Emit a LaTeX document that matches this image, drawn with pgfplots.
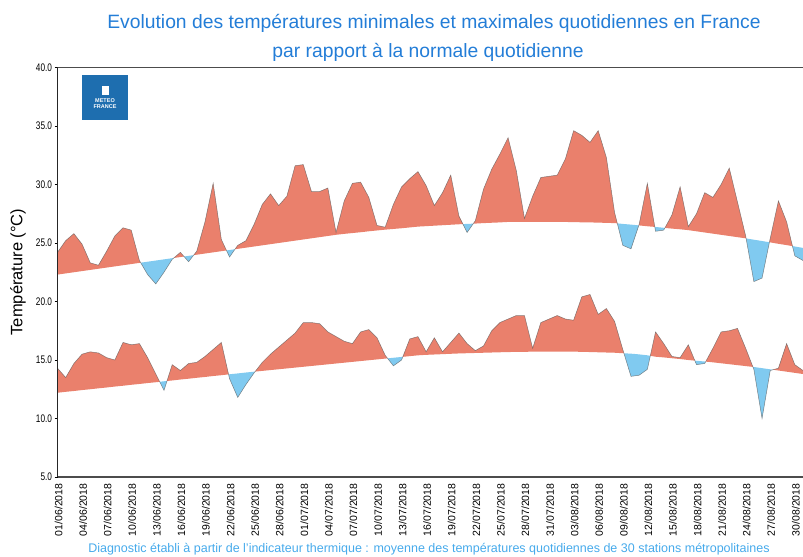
\documentclass[border=0pt]{standalone}
\usepackage{fontspec}
\setmainfont{Liberation Sans}
\usepackage{pgfplots}
\pgfplotsset{compat=1.18}
\usepackage{pgfplotstable}
\usepgfplotslibrary{fillbetween}
\definecolor{mred}{RGB}{234,128,108}
\definecolor{mblue}{RGB}{128,202,240}
\definecolor{tblue}{RGB}{35,125,215}
\definecolor{fblue}{RGB}{70,170,235}
\definecolor{logob}{RGB}{30,110,175}

\pgfplotstableread{
d amax nmax amin nmin
0 24.2 22.30 14.3 12.20
1 25.2 22.40 13.5 12.28
2 25.8 22.50 14.7 12.35
3 24.9 22.60 15.5 12.43
4 23.3 22.70 15.7 12.50
5 23.1 22.80 15.6 12.58
6 24.3 22.90 15.2 12.65
7 25.6 23.00 15.0 12.73
8 26.3 23.10 16.5 12.80
9 26.1 23.20 16.3 12.88
10 23.5 23.30 16.4 12.95
11 22.3 23.40 15.2 13.03
12 21.5 23.50 13.8 13.10
13 22.5 23.60 12.4 13.18
14 23.6 23.70 14.6 13.25
15 24.2 23.80 14.1 13.33
16 23.4 23.90 14.7 13.40
17 24.3 24.00 14.8 13.48
18 26.8 24.10 15.3 13.55
19 30.1 24.20 15.9 13.63
20 25.3 24.30 16.5 13.70
21 23.8 24.40 13.4 13.78
22 24.8 24.50 11.8 13.85
23 25.2 24.60 12.9 13.93
24 26.6 24.70 13.9 14.00
25 28.3 24.80 14.8 14.07
26 29.2 24.90 15.5 14.14
27 28.2 25.00 16.1 14.21
28 29.0 25.10 16.7 14.28
29 31.6 25.20 17.3 14.35
30 31.7 25.30 18.2 14.42
31 29.4 25.40 18.2 14.49
32 29.4 25.50 18.1 14.56
33 29.7 25.60 17.4 14.63
34 25.9 25.70 17.0 14.70
35 28.6 25.78 16.6 14.77
36 30.1 25.85 16.4 14.84
37 30.2 25.92 17.4 14.91
38 28.9 26.00 17.6 14.98
39 26.5 26.07 16.9 15.05
40 26.35 26.14 15.4 15.12
41 28.3 26.20 14.5 15.19
42 29.8 26.26 15.0 15.26
43 30.5 26.33 16.8 15.33
44 31.1 26.40 17.0 15.40
45 29.9 26.44 15.7 15.44
46 28.2 26.48 16.9 15.47
47 29.3 26.52 15.7 15.50
48 30.8 26.56 16.5 15.53
49 27.3 26.60 17.3 15.56
50 25.9 26.63 16.4 15.58
51 26.9 26.66 15.8 15.60
52 29.6 26.70 16.2 15.62
53 31.3 26.73 17.5 15.64
54 32.6 26.76 18.2 15.66
55 34.0 26.80 18.5 15.68
56 31.2 26.80 18.8 15.69
57 27.1 26.80 18.8 15.70
58 29.0 26.80 16.0 15.71
59 30.6 26.80 18.2 15.72
60 30.7 26.80 18.5 15.72
61 30.8 26.80 18.8 15.72
62 32.2 26.80 18.5 15.72
63 34.6 26.78 18.4 15.71
64 34.2 26.77 20.4 15.70
65 33.6 26.76 20.6 15.68
66 34.6 26.74 18.9 15.66
67 32.3 26.72 19.4 15.64
68 27.6 26.70 18.3 15.62
69 24.8 26.63 15.9 15.58
70 24.5 26.57 13.6 15.54
71 26.6 26.50 13.7 15.48
72 30.1 26.43 14.2 15.40
73 26.0 26.37 17.4 15.28
74 26.1 26.30 16.4 15.22
75 27.4 26.23 15.3 15.15
76 29.8 26.17 15.2 15.08
77 26.4 26.10 16.3 15.00
78 27.5 26.00 14.6 14.93
79 29.3 25.90 14.7 14.87
80 28.9 25.80 16.0 14.80
81 30.0 25.70 17.4 14.72
82 31.4 25.60 17.5 14.64
83 28.5 25.50 17.7 14.56
84 25.6 25.40 16.0 14.48
85 21.7 25.28 14.2 14.40
86 22.0 25.17 10.0 14.30
87 25.4 25.05 14.1 14.20
88 28.6 24.93 14.3 14.10
89 26.8 24.82 16.4 14.00
90 23.9 24.70 14.6 13.90
91 23.5 24.58 14.1 13.80
}\data

\begin{document}
\begin{tikzpicture}[x=1bp,y=1bp]
\begin{axis}[
  scale only axis, width=745.5bp, height=409.5bp,
  anchor=south west, at={(57.5bp,80bp)},
  xmin=0, xmax=91, ymin=5, ymax=40,
  axis x line*=box, axis y line*=left,
  x axis line style={draw=black!70, line width=1.2pt},
  y axis line style={draw=black!85, line width=0.8pt},
  ytick={5,10,...,40},
  yticklabel={\scalebox{0.75}[1]{\pgfmathprintnumber[fixed,fixed zerofill,precision=1]{\tick}}},
  /pgf/number format/assume math mode=true,
  y tick label style={font=\fontsize{11bp}{12bp}\selectfont, xshift=1bp},
  ytick style={draw=black, line width=0.6pt},
  ytick pos=left, tick align=outside,
  major tick length=3bp,
  xtick={0,3,...,90},
  xtick style={draw=none},
  xticklabels={01/06/2018,04/06/2018,07/06/2018,10/06/2018,13/06/2018,16/06/2018,19/06/2018,22/06/2018,25/06/2018,28/06/2018,01/07/2018,04/07/2018,07/07/2018,10/07/2018,13/07/2018,16/07/2018,19/07/2018,22/07/2018,25/07/2018,28/07/2018,31/07/2018,03/08/2018,06/08/2018,09/08/2018,12/08/2018,15/08/2018,18/08/2018,21/08/2018,24/08/2018,27/08/2018,30/08/2018},
  x tick label style={rotate=90, anchor=east, font=\fontsize{10.5bp}{11bp}\selectfont, yshift=-1bp},
  axis on top,
]
\addplot[draw=none, name path=nmax] table[x=d,y=nmax]{\data};
\addplot[draw=none, name path=amax] table[x=d,y=amax]{\data};
\addplot[draw=none, name path=nmin] table[x=d,y=nmin]{\data};
\addplot[draw=none, name path=amin] table[x=d,y=amin]{\data};
\addplot fill between[of=amax and nmax, split,
  every even segment/.style={fill=mred},
  every odd segment/.style={fill=mblue}];
\addplot fill between[of=amin and nmin, split,
  every even segment/.style={fill=mred},
  every odd segment/.style={fill=mblue}];
\addplot[draw=black!65, line width=0.5pt, opacity=0.7] table[x=d,y=amax]{\data};
\addplot[draw=black!65, line width=0.5pt, opacity=0.7] table[x=d,y=amin]{\data};
\end{axis}
\node[font=\fontsize{19.3bp}{22bp}\selectfont, text=tblue] at (434,534) {Evolution des températures minimales et maximales quotidiennes en France};
\node[font=\fontsize{19.3bp}{22bp}\selectfont, text=tblue] at (428,505) {par rapport à la normale quotidienne};
\node[rotate=90, font=\fontsize{16.5bp}{18bp}\selectfont] at (18,285) {Température (°C)};
\node[font=\fontsize{12.5bp}{13bp}\selectfont, text=fblue] at (429,8) {Diagnostic établi à partir de l'indicateur thermique : moyenne des températures quotidiennes de 30 stations métropolitaines};
\node[fill=logob, minimum width=46bp, minimum height=45bp, inner sep=0pt, text=white, align=center, font=\fontsize{5.5bp}{6bp}\selectfont\bfseries] at (105,459.5) {{\color{white}\rule{7bp}{9bp}}\\[2bp]METEO\\FRANCE};
\pgfresetboundingbox
\path (0,0) rectangle (803,557);
\end{tikzpicture}
\end{document}
